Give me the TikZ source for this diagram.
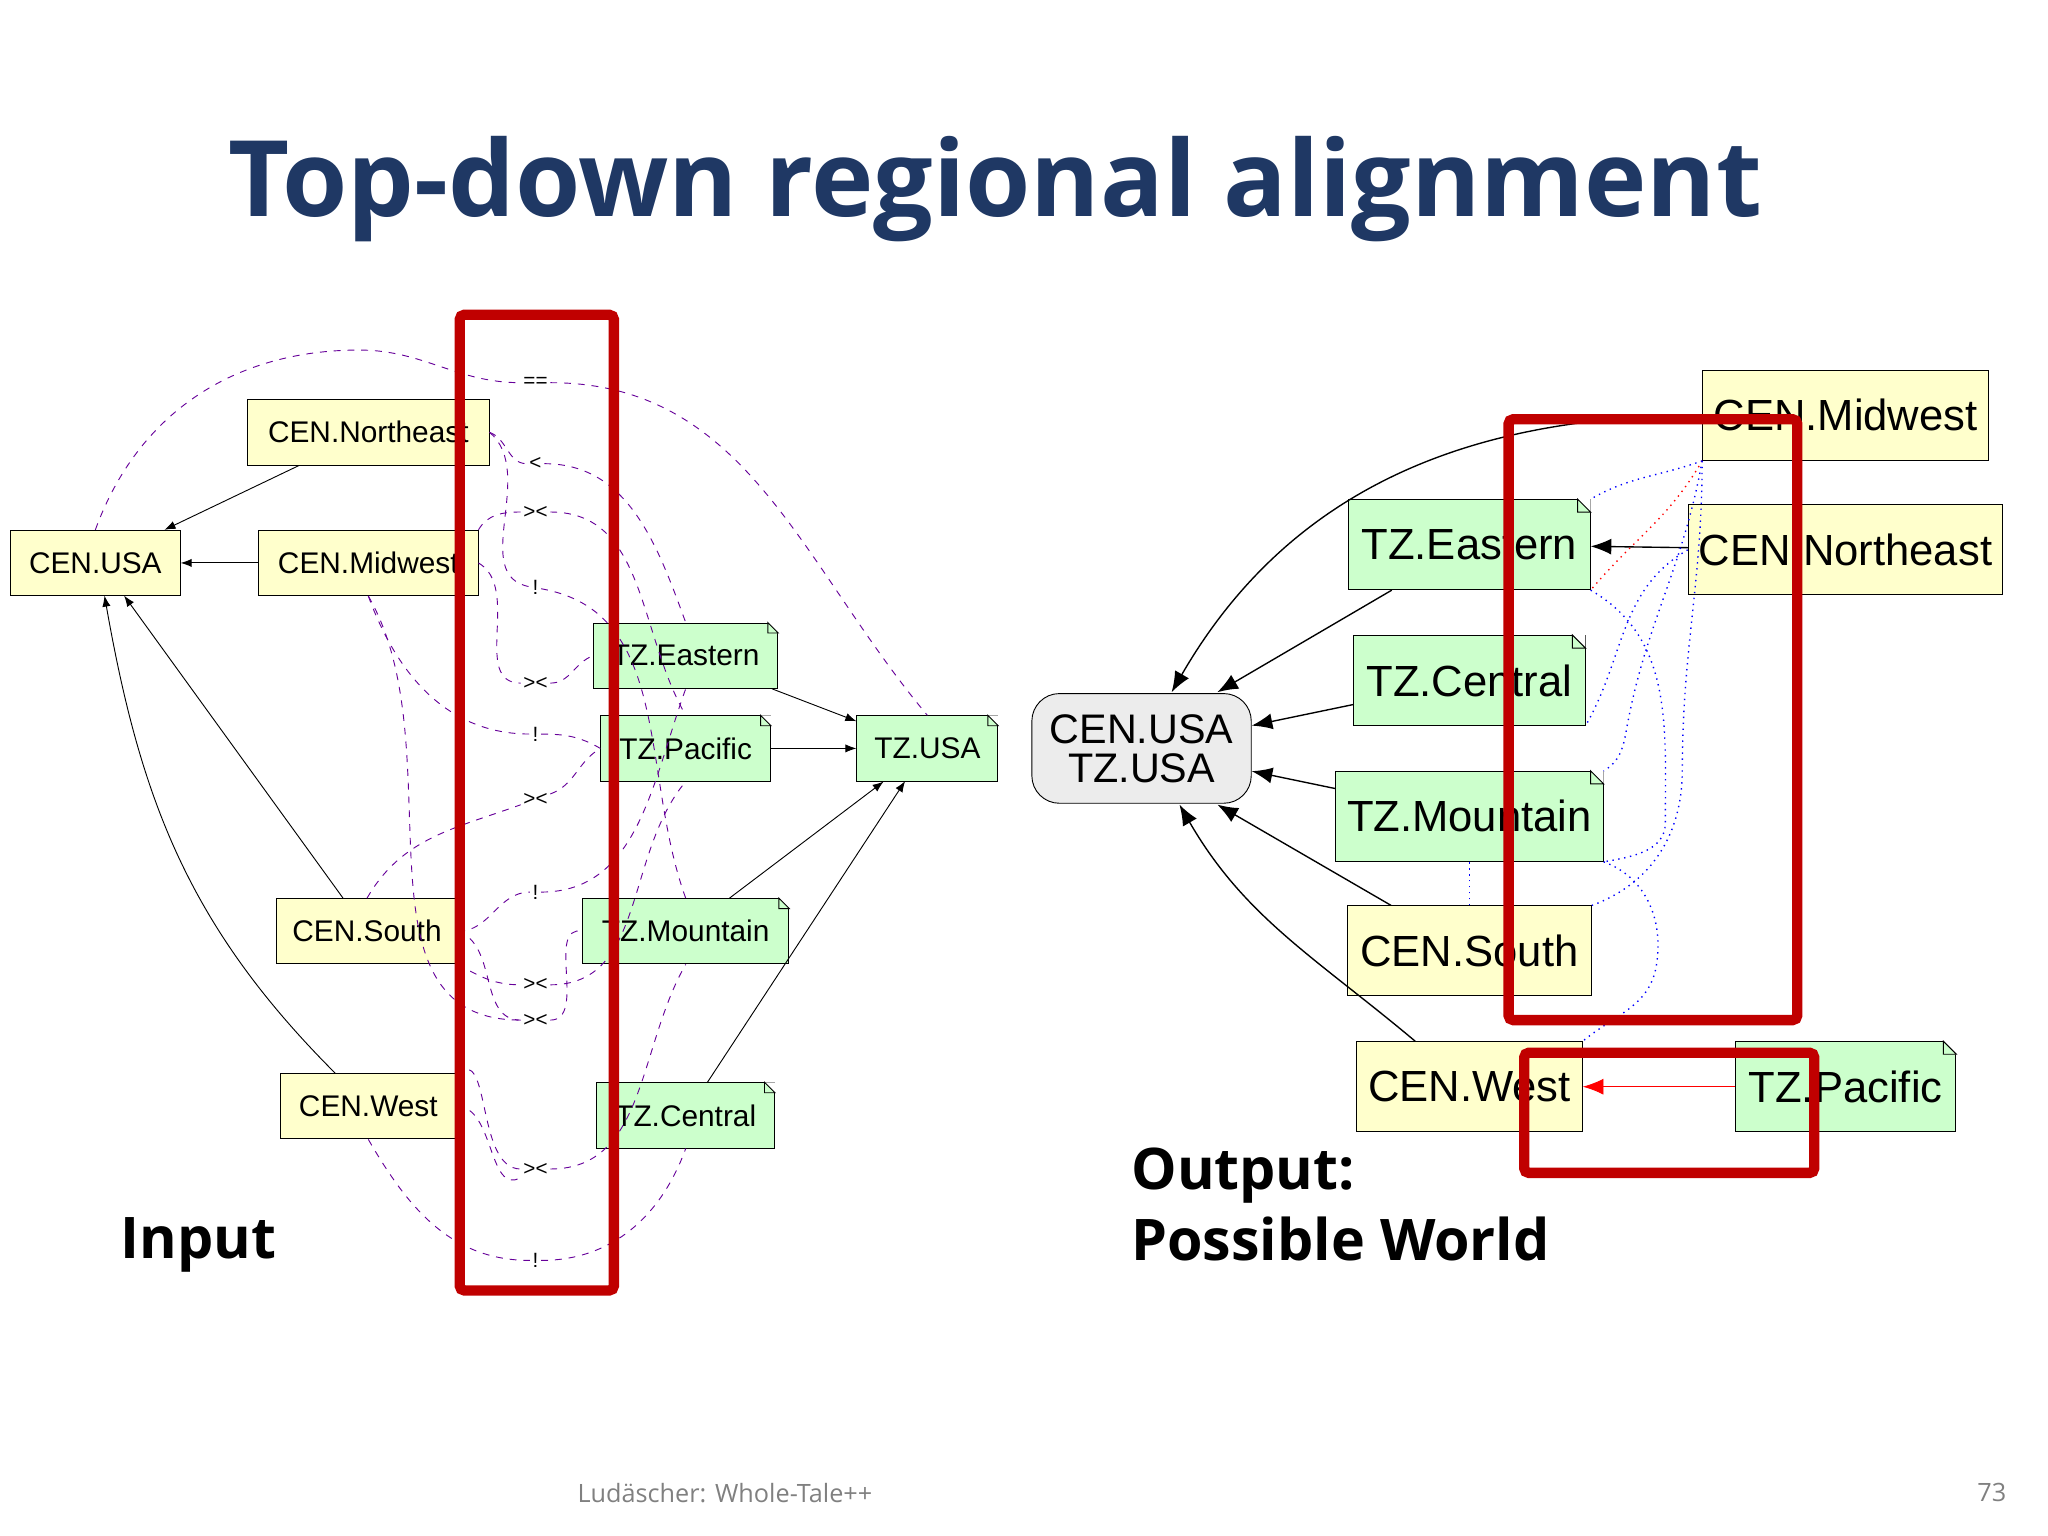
\documentclass[tikz,border=0pt]{standalone}
\usepackage{fontspec}
\setmainfont{Liberation Sans}
\newfontfamily\titlefont{Open Sans}
\usetikzlibrary{positioning, arrows.meta, calc}
\definecolor{cenfill}{HTML}{FFFFCC}
\definecolor{tzfill}{HTML}{CCFFCC}
\definecolor{boxred}{HTML}{C00000}
\definecolor{titleblue}{HTML}{1F3864}
\begin{document}
\begin{tikzpicture}[
    x=0.02cm, y=-0.02cm,
    every node/.style={align=center},
    cen/.style={draw, fill=cenfill, inner sep=0pt, minimum height=1cm, font=\fontsize{13}{15}\selectfont},
    tz/.style={draw, fill=tzfill, inner sep=0pt, minimum height=1cm, font=\fontsize{13}{15}\selectfont},
    bigcen/.style={cen, minimum height=1.38cm, font=\fontsize{19}{22}\selectfont},
    bigtz/.style={tz, minimum height=1.38cm, font=\fontsize{19}{22}\selectfont},
    hub/.style={draw, rounded corners=12pt, fill=gray!15, inner sep=2pt, minimum width=3.36cm, minimum height=1.68cm, font=\fontsize{18}{17}\selectfont},
    isa/.style={-Latex, thin},
    bigisa/.style={-{Latex[length=9pt,width=7pt]}, semithick},
    artic/.style={dashed, violet!80!blue, thin},
    rel/.style={inner sep=1pt, font=\fontsize{9}{10}\selectfont},
    pw/.style={dotted, blue, semithick},
    redbox/.style={draw=boxred, line width=4.5pt, rounded corners=2pt},
    big/.style={font=\titlefont\bfseries\fontsize{25}{31}\selectfont, align=left}
]
\useasboundingbox (0,0) rectangle (1568,1176);

% title and footer
\node[font=\titlefont\bfseries\fontsize{46}{56}\selectfont, text=titleblue] (title) at (762,145) {Top-down regional alignment};
\node[font=\titlefont\fontsize{11}{13}\selectfont, text=gray] (foot) at (555,1143) {Ludäscher: Whole-Tale++};
\node[font=\titlefont\fontsize{11}{13}\selectfont, text=gray] (page) at (1525,1143) {73};

% input taxonomies
\node[cen, minimum width=2.6cm] (usa) at (73,431) {CEN.USA};
\node[cen, minimum width=3.7cm] (ne) at (282,331) {CEN.Northeast};
\node[cen, minimum width=3.36cm] (mw) at (282,431) {CEN.Midwest};
\node[cen, minimum width=2.78cm] (so) at (281,713) {CEN.South};
\node[cen, minimum width=2.7cm] (we) at (282,847) {CEN.West};
\node[tz, minimum width=2.82cm] (ea) at (525,502) {TZ.Eastern};
\node[tz, minimum width=2.6cm] (pa) at (525,573) {TZ.Pacific};
\node[tz, minimum width=2.16cm] (tusa) at (710,573) {TZ.USA};
\node[tz, minimum width=3.16cm] (mo) at (525,713) {TZ.Mountain};
\node[tz, minimum width=2.72cm] (ce) at (525,854) {TZ.Central};

\draw[isa] (ne) -- (usa);
\draw[isa] (mw) -- (usa);
\draw[isa] (so) -- (95,456);
\draw[isa] (we) to[out=135,in=-80] (80,456);
\draw[isa] (ea) -- (tusa);
\draw[isa] (pa) -- (tusa);
\draw[isa] (mo) -- (tusa);
\draw[isa] (ce) -- (693,598);

% articulation labels
\foreach \n/\y/\t in {r1/293/==, r2/355/<, r3/392/><, r4/450/!, r5/523/><, r6/562/!,
    r7/612/><, r8/683/!, r9/754/><, r10/781/><, r11/895/><, r12/965/!}
  \node[rel] (\n) at (410,\y) {\t};

\draw[artic] (usa.north) to[out=70,in=180] (275,268) to[out=0,in=180] (r1) to[out=0,in=130] (tusa.north);
\draw[artic] (ne.east) to[out=-20,in=180] (r2) to[out=0,in=110] (ea.north);
\draw[artic] (mw.north east) to[out=60,in=180] (r3) to[out=0,in=120] (pa.north);
\draw[artic] (ne.east) to[out=-40,in=170] (r4) to[out=-10,in=110] (mo.north);
\draw[artic] (mw.east) to[out=-30,in=180] (r5) to[out=0,in=200] (ea.west);
\draw[artic] (mw.south) to[out=-70,in=180] (r6) to[out=0,in=150] (pa.west);
\draw[artic] (so.north) to[out=60,in=200] (r7) to[out=20,in=210] (pa.west);
\draw[artic] (so.east) to[out=0,in=180] (r8) to[out=0,in=-110] (ea.south);
\draw[artic] (so.south east) to[out=-30,in=180] (r9) to[out=0,in=-130] (pa.south);
\draw[artic] (so.east) to[out=-20,in=180] (r10) to[out=0,in=170] (mo.west);
\draw[artic] (we.north east) to[out=40,in=180] (r11) to[out=0,in=-120] (mo.south);
\draw[artic] (we.south) to[out=-60,in=180] (r12) to[out=0,in=-110] (ce.south);
\draw[artic] (we.east) to[out=0,in=-150] (r11);
\draw[artic] (mw.south) to[out=-60,in=180] (r10);

\draw[redbox] (352,241) rectangle (470,988);
\node[big] (input) at (152,953) {Input};

% possible world
\node[hub] (hub) at (874,573) {CEN.USA\\TZ.USA};
\node[bigcen, minimum width=4.38cm] (rmw) at (1413,318) {CEN.Midwest};
\node[bigcen, minimum width=4.82cm] (rne) at (1413,421) {CEN.Northeast};
\node[bigtz, minimum width=3.7cm] (rea) at (1125,417) {TZ.Eastern};
\node[bigtz, minimum width=3.54cm] (rce) at (1125,521) {TZ.Central};
\node[bigtz, minimum width=4.1cm] (rmo) at (1125,625) {TZ.Mountain};
\node[bigcen, minimum width=3.74cm] (rso) at (1125,728) {CEN.South};
\node[bigcen, minimum width=3.46cm] (rwe) at (1125,832) {CEN.West};
\node[bigtz, minimum width=3.38cm] (rpa) at (1413,832) {TZ.Pacific};

% folded corners
\foreach \n/\d in {ea/8, pa/8, tusa/8, mo/8, ce/8, rea/10, rce/10, rmo/10, rpa/10} {
  \fill[white] (\n.north east) -- ++(-\d,0) -- ++(\d,\d) -- cycle;
  \draw[fill=tzfill] (\n.north east) ++(-\d,0) -- ++(\d,\d) -- ++(-\d,0) -- cycle;
}

\draw[bigisa] (rmw.west) to[out=180,in=60] (897,530);
\draw[bigisa] (rea) -- (932,530);
\draw[bigisa] (rce) -- (hub);
\draw[bigisa] (rmo) -- (hub);
\draw[bigisa] (rso) -- (932,616);
\draw[bigisa] (rwe) to[out=140,in=-60] (903,616);
\draw[bigisa] (rne) -- (rea);
\draw[-{Latex[length=9pt,width=7pt]}, red] (rpa) -- (rwe);

\draw[pw] (rmw.south west) to[out=-160,in=30] (rea.north east);
\draw[dotted, red, semithick] (rmw.south west) to[out=-120,in=50] (rea.south east);
\draw[pw] (rmw.south west) to[out=-100,in=80] (1245,560) to[out=-100,in=30] (rmo.north east);
\draw[pw] (rmw.south west) to[out=-90,in=90] (1288,590) to[out=-90,in=20] (rso.north east);
\draw[pw] (rne.west) to[out=-150,in=60] (rce.south east);
\draw[pw] (rea.south east) to[out=-30,in=90] (1275,630) to[out=-90,in=10] (rmo.south east);
\draw[pw] (rso.north) -- (rmo.south);
\draw[pw] (rmo.south east) to[out=-20,in=80] (1268,740) to[out=-100,in=40] (rwe.north east);

\draw[redbox] (1155,321) rectangle (1376,781);
\draw[redbox] (1167,806) rectangle (1389,898);
\node[big, anchor=west] (output) at (860,922) {Output:\\Possible World};
\end{tikzpicture}
\end{document}
